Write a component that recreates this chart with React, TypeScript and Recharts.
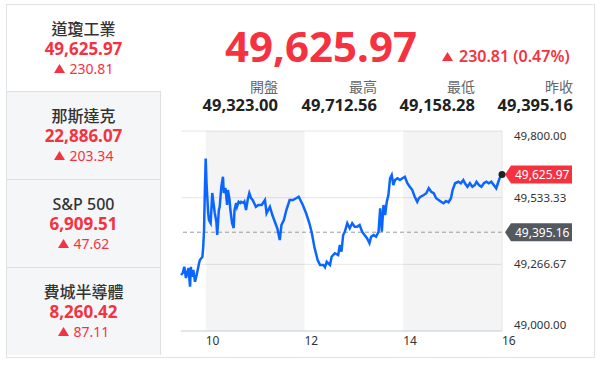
import { LineChart, Line, XAxis, YAxis, CartesianGrid, ReferenceLine, ReferenceArea, ReferenceDot } from 'recharts';

const FONT = '"Noto Sans", "Noto Sans CJK TC", sans-serif';
const RED = '#f5323f';
const BLUE = '#0a66ff';

// 左側指數列表
const indexNames = ['道瓊工業', '那斯達克', 'S&P 500', '費城半導體'];
const indexValues = ['49,625.97', '22,886.07', '6,909.51', '8,260.42'];
const indexChanges = ['230.81', '203.34', '47.62', '87.11'];

// 上方報價
const lastPriceText = '49,625.97';
const changeText = '230.81 (0.47%)';
const statLabels = ['開盤', '最高', '最低', '昨收'];
const statValues = ['49,323.00', '49,712.56', '49,158.28', '49,395.16'];

// 走勢 (開盤後分鐘數, 指數)
const minutes = [
  0, 2, 4, 6, 9, 11, 12, 13, 15, 17,
  19, 22, 23, 26, 27, 28, 29, 30, 31, 33,
  34, 36, 38, 39, 41, 43, 44, 46, 47, 49,
  51, 52, 54, 56, 57, 59, 60, 62, 64, 65,
  67, 68, 70, 72, 73, 76, 77, 79, 81, 83,
  85, 87, 90, 91, 94, 98, 102, 104, 108, 111,
  114, 117, 120, 122, 125, 128, 132, 136, 140, 143,
  145, 148, 152, 156, 159, 162, 166, 169, 173, 175,
  177, 181, 183, 187, 191, 193, 195, 197, 199, 202,
  205, 208, 211, 214, 217, 220, 223, 226, 229, 231,
  234, 237, 240, 242, 244, 246, 248, 250, 252, 254,
  256, 258, 260, 263, 266, 269, 272, 275, 278, 281,
  284, 287, 289, 291, 295, 298, 301, 304, 307, 310,
  313, 316, 319, 322, 325, 328, 330, 333, 337, 340,
  343, 345, 348, 351, 354, 357, 359, 362, 365, 368,
  371, 374, 377, 380, 383, 385, 387, 390,
];
const prices = [
  49224, 49231, 49257, 49212, 49252, 49177, 49257, 49217, 49244, 49197,
  49224, 49272, 49284, 49297, 49337, 49404, 49564, 49690, 49592, 49472,
  49444, 49432, 49552, 49524, 49472, 49437, 49384, 49484, 49497, 49577,
  49617, 49552, 49572, 49504, 49564, 49524, 49484, 49432, 49412, 49484,
  49512, 49497, 49517, 49512, 49517, 49512, 49517, 49484, 49524, 49551,
  49532, 49524, 49504, 49497, 49504, 49504, 49524, 49471, 49497, 49464,
  49437, 49411, 49364, 49424, 49444, 49484, 49524, 49524, 49531, 49537,
  49524, 49504, 49471, 49431, 49391, 49337, 49284, 49264, 49264, 49255,
  49277, 49264, 49297, 49311, 49304, 49344, 49317, 49384, 49397, 49431,
  49411, 49431, 49417, 49417, 49424, 49397, 49384, 49371, 49351, 49377,
  49384, 49377, 49397, 49491, 49397, 49504, 49464, 49517, 49544, 49611,
  49624, 49584, 49604, 49611, 49604, 49611, 49617, 49591, 49577, 49564,
  49537, 49517, 49531, 49537, 49544, 49551, 49571, 49557, 49551, 49531,
  49524, 49517, 49511, 49520, 49515, 49531, 49564, 49591, 49597, 49591,
  49604, 49591, 49577, 49591, 49577, 49584, 49597, 49584, 49577, 49591,
  49597, 49591, 49597, 49584, 49571, 49591, 49611, 49625.97,
];

const hourTicks = [30, 150, 270, 390];
const hourLabels = ['10', '12', '14', '16'];
const priceTicks = [49000, 49266.67, 49533.33, 49800];
const shadeStarts = [30, 270];
const shadeEnds = [150, 390];
const prevClose = 49395.16;
const lastPrice = 49625.97;

const chartData = minutes.map((m, i) => ({ m, v: prices[i] }));

const fmt = (n: number) => n.toLocaleString('en-US', { minimumFractionDigits: 2, maximumFractionDigits: 2 });

// 文字以中心 y 定位
function Txt({ left, right, cy, size, color, weight = 400, width, align = 'left', children }: any) {
  return (
    <div
      style={{
        position: 'absolute',
        left,
        right,
        width,
        top: cy - size * 0.53,
        fontSize: size,
        lineHeight: `${size}px`,
        color,
        fontWeight: weight,
        textAlign: align,
        whiteSpace: 'nowrap',
      }}
    >
      {children}
    </div>
  );
}

function UpArrow({ w, h }: { w: number; h: number }) {
  return (
    <svg width={w} height={h} style={{ display: 'block' }}>
      <polygon points={`${w / 2},0 ${w},${h} 0,${h}`} fill={RED} />
    </svg>
  );
}

function PriceTag({ viewBox, text, color }: any) {
  const x = viewBox.x + viewBox.width + 3;
  const y = viewBox.y;
  return (
    <g>
      <path d={`M${x} ${y} L${x + 6} ${y - 9} H${x + 67} V${y + 9} H${x + 6} Z`} fill={color} />
      <text x={x + 10} y={y} dy="0.36em" fill="#fff" fontSize={12} fontFamily={FONT}>
        {text}
      </text>
    </g>
  );
}

function PriceTick({ x, y, payload }: any) {
  const v = payload.value;
  const dy = v === priceTicks[priceTicks.length - 1] ? 5 : v === priceTicks[0] ? -6 : 0;
  return (
    <text x={x + 4} y={y + dy} dy="0.36em" fill="#333" fontSize={11.5} fontFamily={FONT} textAnchor="start">
      {fmt(v)}
    </text>
  );
}

function HourTick({ x, y, payload }: any) {
  const i = hourTicks.indexOf(payload.value);
  return (
    <text x={x} y={y + 6} fill="#333" fontSize={12} fontFamily={FONT} textAnchor="start">
      {hourLabels[i]}
    </text>
  );
}

export default function App() {
  const itemTops = [4, 91, 179, 267];
  const statRights = [278, 377, 475, 573];

  return (
    <div style={{ position: 'absolute', left: 0, top: 0, width: 603, height: 368, background: '#fff', fontFamily: FONT }}>
      <div style={{ position: 'absolute', left: 6, top: 4, width: 587, height: 352, border: '1px solid #dfe2e6' }} />

      {itemTops.map((t, i) => (
        <div key={i}>
          {i > 0 && (
            <div
              style={{
                position: 'absolute',
                left: 7,
                top: t,
                width: 153,
                height: 87,
                background: '#f5f6f8',
                borderTop: '1px solid #dcdfe4',
                borderRight: '1px solid #dcdfe4',
              }}
            />
          )}
          <Txt left={7} width={153} align="center" cy={t + 25} size={16} color="#333" weight={500}>
            {indexNames[i]}
          </Txt>
          <Txt left={7} width={153} align="center" cy={t + 45} size={17} color={RED} weight={700}>
            {indexValues[i]}
          </Txt>
          <div
            style={{
              position: 'absolute',
              left: 7,
              width: 153,
              top: t + 55,
              height: 19,
              display: 'flex',
              justifyContent: 'center',
              alignItems: 'center',
              gap: 5,
              color: RED,
              fontSize: 14,
            }}
          >
            <UpArrow w={11} h={9} />
            <span style={{ lineHeight: '19px' }}>{indexChanges[i]}</span>
          </div>
        </div>
      ))}

      <Txt left={225} cy={47} size={42} color={RED} weight={700}>
        {lastPriceText}
      </Txt>
      <div
        style={{
          position: 'absolute',
          left: 442,
          top: 46,
          height: 20,
          display: 'flex',
          alignItems: 'center',
          gap: 6,
          color: RED,
          fontSize: 16,
          fontWeight: 600,
        }}
      >
        <UpArrow w={11} h={9} />
        <span style={{ lineHeight: '20px' }}>{changeText}</span>
      </div>

      {statLabels.map((s, i) => (
        <div key={s}>
          <Txt left={statRights[i] - 98} width={98} align="right" cy={87} size={14} color="#666">
            {s}
          </Txt>
          <Txt left={statRights[i] - 98} width={98} align="right" cy={106} size={16.5} color="#222" weight={700}>
            {statValues[i]}
          </Txt>
        </div>
      ))}

      <div style={{ position: 'absolute', left: 170, top: 120 }}>
        <LineChart width={430} height={240} data={chartData} margin={{ top: 11, left: 11, right: 0, bottom: 0 }}>
          <CartesianGrid vertical={false} stroke="#e6e6e6" />
          {shadeStarts.map((s, i) => (
            <ReferenceArea key={s} x1={s} x2={shadeEnds[i]} fill="#000" fillOpacity={0.045} stroke="none" />
          ))}
          <XAxis
            dataKey="m"
            type="number"
            domain={[0, 390]}
            ticks={hourTicks}
            interval={0}
            height={29}
            tickLine={false}
            axisLine={{ stroke: '#ccd6eb' }}
            tick={<HourTick />}
          />
          <YAxis
            orientation="right"
            width={98}
            type="number"
            domain={[49000, 49800]}
            ticks={priceTicks}
            interval={0}
            tickLine={false}
            axisLine={{ stroke: '#e6e6e6' }}
            tick={<PriceTick />}
          />
          <ReferenceLine
            y={prevClose}
            stroke="#999"
            strokeDasharray="4 3"
            label={<PriceTag text={fmt(prevClose)} color="#53595f" />}
          />
          <Line type="linear" dataKey="v" stroke={BLUE} strokeWidth={2.5} dot={false} isAnimationActive={false} />
          <ReferenceLine y={lastPrice} stroke="none" label={<PriceTag text={fmt(lastPrice)} color={RED} />} />
          <ReferenceDot x={390} y={lastPrice} r={3.5} fill="#222" stroke="none" />
        </LineChart>
      </div>
    </div>
  );
}
